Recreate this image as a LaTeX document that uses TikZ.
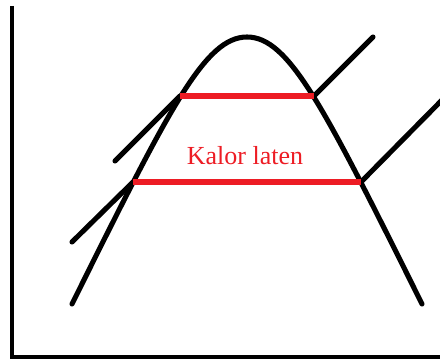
\documentclass[tikz,border=0pt]{standalone}
\usepackage{fontspec}
\setmainfont{Liberation Serif}
\usetikzlibrary{positioning}
\definecolor{curvecolor}{RGB}{0, 0, 0}
\definecolor{latencolor}{RGB}{237, 28, 36}
\tikzset{
axisline/.style={
  draw=curvecolor,
  line width=3.4pt
},
curveline/.style={
  draw=curvecolor,
  line width=3.6pt,
  line cap=round
},
latenline/.style={
  draw=latencolor,
  line width=3.6pt
},
latenlabel/.style={
  font=\fontsize{18.5}{22}\selectfont,
  text=latencolor,
  inner sep=0pt
}
}
\begin{document}
\begin{tikzpicture}[x=0.025cm,y=-0.025cm]
  \useasboundingbox (0,0) rectangle (440,360);
  % sumbu
  \coordinate (top) at (12,6);
  \coordinate (origin) at (12,357);
  \coordinate (right) at (440,357);
  \draw[axisline] (top) -- (origin) -- (right);
  % kurva
  \coordinate (footL) at (72,304);
  \coordinate (peak) at (247,37);
  \coordinate (footR) at (422,304);
  \draw[curveline] (footL) .. controls (170,107) and (205,37) .. (peak)
    .. controls (289,37) and (324,107) .. (footR);
  % titik pada kurva
  \coordinate (uL) at (180,96);
  \coordinate (uR) at (314,96);
  \coordinate (lL) at (133,182);
  \coordinate (lR) at (361,182);
  \coordinate (uLend) at (115,161);
  \coordinate (lLend) at (72,242);
  \coordinate (uRend) at (373,37);
  \coordinate (lRend) at (444,98);
  \draw[curveline] (uLend) -- (uL);
  \draw[curveline] (lLend) -- (lL);
  \draw[curveline] (uR) -- (uRend);
  \draw[curveline] (lR) -- (lRend);
  % kalor laten
  \draw[latenline] (uL) -- (uR);
  \draw[latenline] (lL) -- (lR);
  \node[latenlabel] (label) at (245,156) {Kalor laten};
\end{tikzpicture}
\end{document}
